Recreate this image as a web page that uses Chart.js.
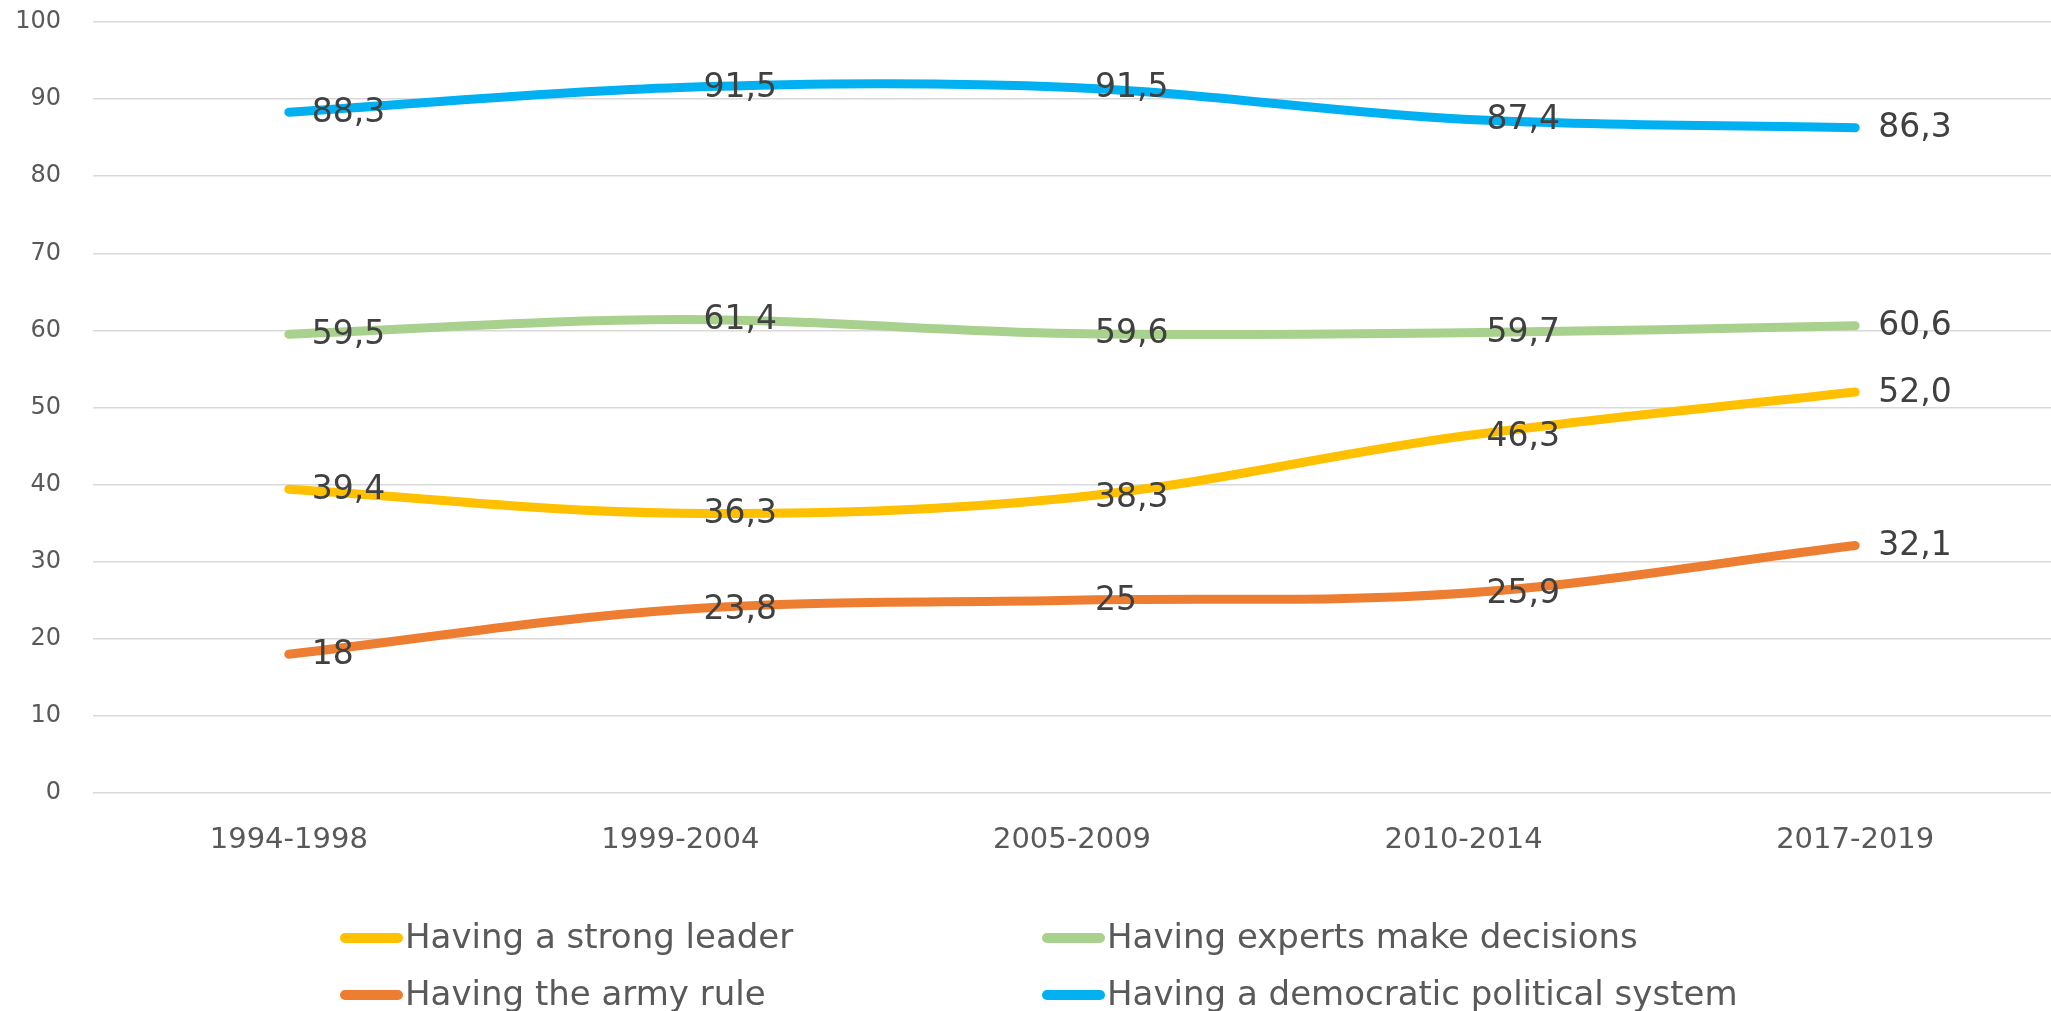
<!DOCTYPE html>
<html>
<head>
<meta charset="utf-8">
<title>Support for political systems</title>
<script src="https://cdn.jsdelivr.net/npm/chart.js@4.4.1/dist/chart.umd.min.js"></script>
<style>
  html, body { margin: 0; padding: 0; background: #ffffff; }
  #wrap { width: 2051px; height: 1011px; position: relative; }
</style>
</head>
<body>
<div id="wrap"><canvas id="chart"></canvas></div>
<script>
'use strict';

// periods on the x axis
var categories = ['1994-1998', '1999-2004', '2005-2009', '2010-2014', '2017-2019'];

// series values (percent)
var strongLeader = [39.4, 36.3, 38.3, 46.3, 52.0];
var experts = [59.5, 61.4, 59.6, 59.7, 60.6];
var armyRule = [18, 23.8, 25, 25.9, 32.1];
var democratic = [88.3, 91.5, 91.5, 87.4, 86.3];

// data label texts as printed on the chart
var strongLeaderText = ['39,4', '36,3', '38,3', '46,3', '52,0'];
var expertsText = ['59,5', '61,4', '59,6', '59,7', '60,6'];
var armyRuleText = ['18', '23,8', '25', '25,9', '32,1'];
var democraticText = ['88,3', '91,5', '91,5', '87,4', '86,3'];

// y axis tick labels
var yTicks = [0, 10, 20, 30, 40, 50, 60, 70, 80, 90, 100];

var seriesNames = [
    'Having a strong leader',
    'Having experts make decisions',
    'Having the army rule',
    'Having a democratic political system'
];
var seriesColors = ['#FFC000', '#A9D18E', '#ED7D31', '#00B0F0'];
var seriesValues = [strongLeader, experts, armyRule, democratic];
var seriesTexts = [strongLeaderText, expertsText, armyRuleText, democraticText];

Chart.defaults.font.family = '"DejaVu Sans", sans-serif';

// value labels to the right of each point
var valueLabels = {
    id: 'valueLabels',
    afterDatasetsDraw: function (chart) {
        var ctx = chart.ctx;
        ctx.save();
        ctx.font = '33px "DejaVu Sans"';
        ctx.fillStyle = '#404040';
        ctx.textAlign = 'left';
        ctx.textBaseline = 'middle';
        chart.data.datasets.forEach(function (ds, i) {
            var texts = seriesTexts[i];
            chart.getDatasetMeta(i).data.forEach(function (pt, j) {
                ctx.fillText(texts[j], pt.x + 23, pt.y + 1);
            });
        });
        ctx.restore();
    }
};

// two-column legend under the axis, like the original
var gridLegend = {
    id: 'gridLegend',
    afterDraw: function (chart) {
        var ctx = chart.ctx;
        var cols = [340, 1042];
        var rows = [938, 995];
        ctx.save();
        ctx.font = '34px "DejaVu Sans"';
        ctx.fillStyle = '#595959';
        ctx.textAlign = 'left';
        ctx.textBaseline = 'middle';
        chart.data.datasets.forEach(function (ds, i) {
            var x = cols[i % 2];
            var y = rows[Math.floor(i / 2)];
            ctx.beginPath();
            ctx.strokeStyle = ds.borderColor;
            ctx.lineWidth = 10;
            ctx.lineCap = 'round';
            ctx.moveTo(x + 5, y);
            ctx.lineTo(x + 58, y);
            ctx.stroke();
            ctx.fillText(ds.label, x + 65, y + 1);
        });
        ctx.restore();
    }
};

var datasets = seriesNames.map(function (name, i) {
    return {
        label: name,
        data: seriesValues[i],
        borderColor: seriesColors[i],
        backgroundColor: seriesColors[i],
        borderWidth: 9,
        borderCapStyle: 'round',
        borderJoinStyle: 'round',
        pointRadius: 0,
        pointHoverRadius: 0,
        tension: 0.35,
        fill: false
    };
});

var ctx = document.getElementById('chart').getContext('2d');
var chart = new Chart(ctx, {
    type: 'line',
    data: {
        labels: categories,
        datasets: datasets
    },
    options: {
        responsive: true,
        maintainAspectRatio: false,
        animation: false,
        layout: {
            padding: { top: 22, left: 0, right: 0, bottom: 0 }
        },
        plugins: {
            legend: { display: false },
            tooltip: { enabled: false }
        },
        scales: {
            x: {
                offset: true,
                grid: { display: false },
                border: { display: false },
                ticks: {
                    color: '#595959',
                    font: { size: 29 },
                    padding: 22,
                    maxRotation: 0
                },
                afterFit: function (scale) { scale.height = 218; }
            },
            y: {
                min: 0,
                max: 100,
                afterBuildTicks: function (scale) {
                    scale.ticks = yTicks.map(function (v) { return { value: v }; });
                },
                grid: {
                    color: '#D9D9D9',
                    lineWidth: 1.5,
                    drawTicks: false
                },
                border: { display: false },
                ticks: {
                    color: '#595959',
                    font: { size: 24 },
                    padding: 32
                },
                afterFit: function (scale) {
                    scale.width = 93;
                    scale.paddingTop = 0;
                    scale.paddingBottom = 0;
                }
            }
        }
    },
    plugins: [valueLabels, gridLegend]
});
</script>
</body>
</html>
